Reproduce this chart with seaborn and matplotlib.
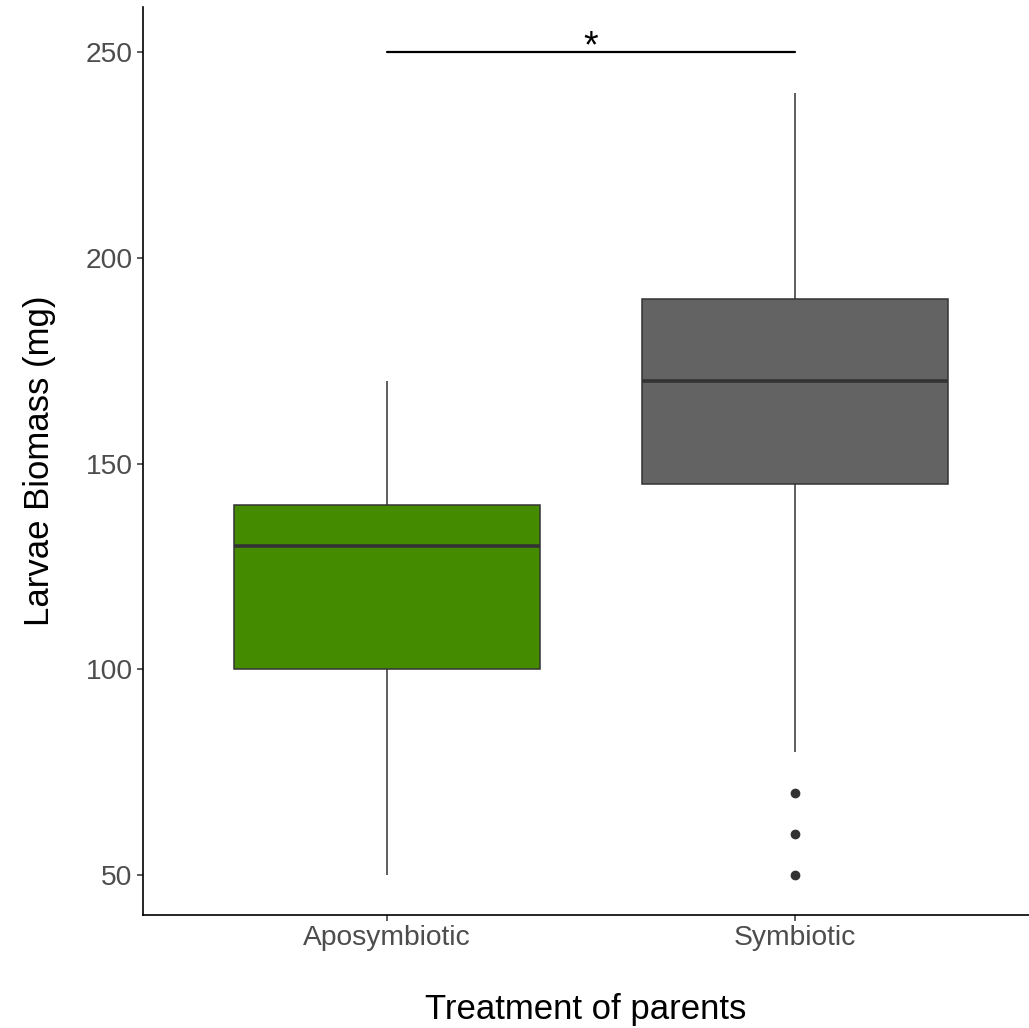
import pandas as pd
import matplotlib
matplotlib.use("Agg")
import matplotlib.pyplot as plt
import seaborn as sns

groups = ["Aposymbiotic", "Symbiotic"]
aposymbiotic = [50, 100, 130, 140, 170]
symbiotic = [50, 60, 70, 80, 145, 150, 160, 165, 170, 175, 180, 185, 190, 200, 210, 230, 240]
box_colors = ["#458B00", "#636363"]
y_ticks = [50, 100, 150, 200, 250]
signif_y = 250
signif_label = "*"

sns.set_theme(style="ticks")
plt.rcParams["font.family"] = ["Liberation Sans", "DejaVu Sans"]

df = pd.DataFrame({
    "treatment": [groups[0]] * len(aposymbiotic) + [groups[1]] * len(symbiotic),
    "biomass": aposymbiotic + symbiotic,
})

fig = plt.figure(figsize=(10.29, 10.28), dpi=100)
ax = fig.add_axes([0.139, 0.11, 0.861, 0.883])

sns.boxplot(data=df, x="treatment", y="biomass", hue="treatment", order=groups,
            palette=dict(zip(groups, box_colors)), saturation=1, width=0.75,
            linecolor="#333333", linewidth=1.1, legend=False, ax=ax,
            medianprops=dict(linewidth=2.6, color="#333333"),
            flierprops=dict(marker="o", markersize=6, markerfacecolor="#333333",
                            markeredgecolor="#333333"),
            showcaps=False)

# significance bracket
ax.plot([0, 1], [signif_y, signif_y], color="black", linewidth=1.6)
ax.text(0.5, signif_y + 1.2, signif_label, ha="center", va="center",
        fontsize=27, color="black")

ax.set_xlim(-0.598, 1.574)
ax.set_ylim(40.3, 260.9)
ax.set_yticks(y_ticks)
ax.set_xlabel("Treatment of parents", fontsize=25, labelpad=30, color="black")
ax.set_ylabel("Larvae Biomass (mg)", fontsize=25, labelpad=21, color="black")
ax.tick_params(axis="both", labelsize=20.3, colors="#4D4D4D", length=4, width=1.1)
ax.tick_params(axis="both", color="#333333")
for side in ["top", "right"]:
    ax.spines[side].set_visible(False)
for side in ["left", "bottom"]:
    ax.spines[side].set_linewidth(1.2)
    ax.spines[side].set_color("black")

fig.savefig("out.png", dpi=100)
